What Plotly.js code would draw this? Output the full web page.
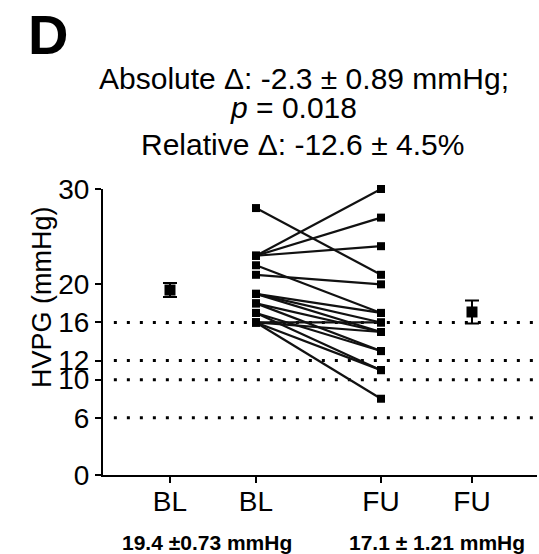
<!DOCTYPE html>
<html>
<head>
<meta charset="utf-8">
<script src="https://cdn.plot.ly/plotly-3.0.1.min.js"></script>
<style>html,body{margin:0;padding:0;background:#fff;}#chart{width:539px;height:554px;}</style>
</head>
<body>
<div id="chart"></div>
<script>
// ---- data ----
var tickLabels = ["BL", "BL", "FU", "FU"];
var yTicks = [0, 6, 10, 12, 16, 20, 30];
var refLines = [6, 10, 12, 16];
// paired HVPG values (mmHg), baseline -> follow-up
var blVals = [28, 23, 23, 23, 22, 21, 19, 19, 19, 18, 18, 17, 17, 16, 16, 16, 16];
var fuVals = [21, 30, 27, 24, 17, 20, 17, 16, 15, 13, 15, 11, 13, 8, 16, 15, 11];
// group means and SEM
var meanVals = [19.4, 17.1];
var semVals = [0.73, 1.21];
var summaryTexts = ["19.4 \u00b10.73 mmHg", "17.1 \u00b1 1.21 mmHg"];
var titleLines = ["Absolute \u0394: -2.3 \u00b1 0.89 mmHg;", "<i>p</i> = 0.018", "Relative \u0394: -12.6 \u00b1 4.5%"];
var panelLabel = "D";
var yTitle = "HVPG (mmHg)";

// ---- layout helpers ----
var W = 539, H = 554;
var mL = 103, mR = 2, mT = 189, mB = 79;
var pw = W - mL - mR, ph = H - mT - mB;
function px(x) { return (x - mL) / pw; }
function py(y) { return (H - mB - y) / ph; }
var xPos = [1, 2, 3.454, 4.512];
var font = "Liberation Sans, Arial, sans-serif";

var pairX = [], pairY = [];
for (var i = 0; i < blVals.length; i++) {
  pairX.push(xPos[1], xPos[2], null);
  pairY.push(blVals[i], fuVals[i], null);
}

var traces = [
  {
    x: pairX, y: pairY, type: "scatter", mode: "lines+markers",
    line: {color: "#111", width: 2.2},
    marker: {symbol: "square", size: 8, color: "#000"},
    cliponaxis: false, hoverinfo: "skip", showlegend: false
  },
  {
    x: [xPos[0], xPos[3]], y: meanVals, type: "scatter", mode: "markers",
    marker: {symbol: "square", size: 11, color: "#000"},
    error_y: {type: "data", array: semVals, visible: true, color: "#000", thickness: 2, width: 7},
    cliponaxis: false, showlegend: false
  }
];

var shapes = refLines.map(function (v) {
  return {type: "line", xref: "paper", yref: "y", x0: 0.025, x1: 1, y0: v, y1: v,
    line: {color: "#000", width: 3, dash: "3px,10px"}, layer: "below"};
});

var annotations = [
  {text: "<b>" + panelLabel + "</b>", x: px(48), y: py(34), font: {size: 56, color: "#000", family: font}},
  {text: titleLines[0], x: px(304), y: py(78), font: {size: 30, color: "#000", family: font}},
  {text: titleLines[1], x: px(293), y: py(107), font: {size: 30, color: "#000", family: font}},
  {text: titleLines[2], x: px(302), y: py(144), font: {size: 30, color: "#000", family: font}},
  {text: yTitle, x: px(42), y: py(297), textangle: -90, font: {size: 27, color: "#000", family: font}},
  {text: "<b>" + summaryTexts[0] + "</b>", x: px(207), y: py(542), font: {size: 21, color: "#000", family: font}},
  {text: "<b>" + summaryTexts[1] + "</b>", x: px(437), y: py(542), font: {size: 21, color: "#000", family: font}}
].map(function (a) {
  a.xref = "paper"; a.yref = "paper"; a.showarrow = false;
  a.xanchor = "center"; a.yanchor = "middle";
  return a;
});

var layout = {
  width: W, height: H,
  margin: {l: mL, r: mR, t: mT, b: mB, pad: 0},
  paper_bgcolor: "#fff", plot_bgcolor: "#fff",
  showlegend: false,
  xaxis: {
    range: [0.221, 5.268], tickmode: "array", tickvals: xPos, ticktext: tickLabels,
    showgrid: false, zeroline: false, showline: true, linecolor: "#000", linewidth: 2,
    ticks: "outside", ticklen: 6, tickwidth: 2, tickcolor: "#000", ticklabelstandoff: -6,
    tickfont: {size: 28, color: "#000", family: font}, fixedrange: true
  },
  yaxis: {
    range: [0, 30], tickmode: "array", tickvals: yTicks,
    showgrid: false, zeroline: false, showline: true, linecolor: "#000", linewidth: 2,
    ticks: "outside", ticklen: 6, tickwidth: 2, tickcolor: "#000",
    tickfont: {size: 28, color: "#000", family: font}, fixedrange: true
  },
  shapes: shapes,
  annotations: annotations
};

Plotly.newPlot("chart", traces, layout, {staticPlot: true, displayModeBar: false});
</script>
</body>
</html>
